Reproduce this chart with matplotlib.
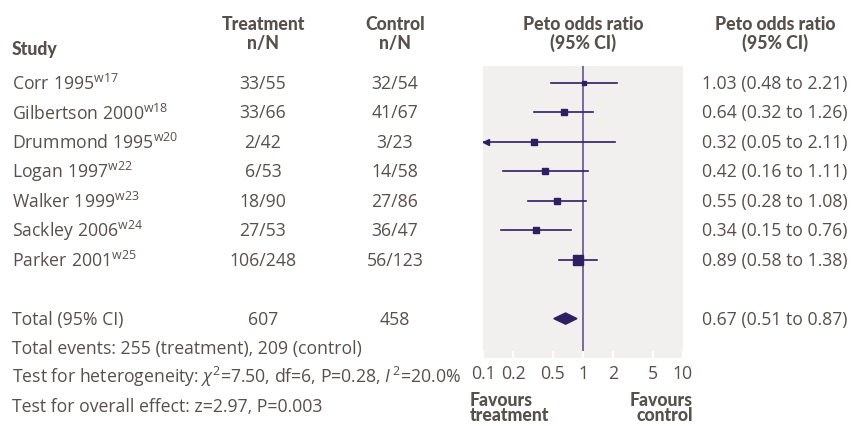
import matplotlib.pyplot as plt
import numpy as np

studies = ["Corr 1995", "Gilbertson 2000", "Drummond 1995", "Logan 1997",
           "Walker 1999", "Sackley 2006", "Parker 2001"]
refs = ["w17", "w18", "w20", "w22", "w23", "w24", "w25"]
treat = ["33/55", "33/66", "2/42", "6/53", "18/90", "27/53", "106/248"]
ctrl = ["32/54", "41/67", "3/23", "14/58", "27/86", "36/47", "56/123"]
orr = [1.03, 0.64, 0.32, 0.42, 0.55, 0.34, 0.89]
lo = [0.48, 0.32, 0.05, 0.16, 0.28, 0.15, 0.58]
hi = [2.21, 1.26, 2.11, 1.11, 1.08, 0.76, 1.38]
box = [2.8, 4.6, 3.8, 4.3, 4.3, 4.0, 6.6]   # marker size, roughly from weight
tot_or, tot_lo, tot_hi = 0.67, 0.51, 0.87
ticks = [0.1, 0.2, 0.5, 1, 2, 5, 10]

txt = '#57504d'
ink = '#2e1f63'
plt.rcParams['font.family'] = ['Open Sans', 'DejaVu Sans']
plt.rcParams['mathtext.fontset'] = 'custom'
plt.rcParams['mathtext.rm'] = 'Open Sans'
plt.rcParams['mathtext.it'] = 'Open Sans:italic'
fs = 12.7
bold = dict(family='Lato', fontweight='black')

fig = plt.figure(figsize=(8.52, 4.27), dpi=100)
bg = fig.add_axes([0, 0, 1, 1])
bg.set_xlim(0, 852)
bg.set_ylim(427, 0)
bg.axis('off')

# forest panel
ax = fig.add_axes([483/852, (427-359)/427, 200/852, (359-67)/427])
ax.set_facecolor('#f1f0ee')
ax.set_xscale('log')
ax.set_xlim(0.1, 10)
row0, step = 84, 29.45
ax.set_ylim((359-row0)/step, (67-row0)/step)
for s in ax.spines.values():
    s.set_visible(False)
ax.set_yticks([])
ax.set_xticks(ticks)
ax.set_xticklabels([str(t) for t in ticks], fontsize=fs, color=txt)
ax.minorticks_off()
ax.tick_params(axis='x', direction='in', length=5, width=1.5, color='white', pad=4)
ax.axvline(1, color='#6e5f98', lw=1.3, zorder=1)

for i in range(len(orr)):
    left = max(lo[i], 0.1)
    ax.plot([left, hi[i]], [i, i], color=ink, lw=1.2, zorder=2)
    ax.plot(orr[i], i, marker='s', ms=box[i], color=ink, zorder=3)
    if lo[i] < 0.1:
        ax.plot(0.107, i, marker='<', ms=5, color=ink, zorder=3, clip_on=False)

yt = 8
ax.fill([tot_lo, tot_or, tot_hi, tot_or], [yt, yt - 0.19, yt, yt + 0.19], color=ink, zorder=3)

# headers
hk = dict(fontsize=fs, color=txt, ha='center', va='center', **bold)
bg.text(12, 50, "Study", ha='left', va='center', fontsize=fs, color=txt, **bold)
bg.text(263, 24, "Treatment", **hk)
bg.text(263, 43, "n/N", **hk)
bg.text(395, 24, "Control", **hk)
bg.text(395, 43, "n/N", **hk)
bg.text(583, 24, "Peto odds ratio", **hk)
bg.text(583, 43, "(95% CI)", **hk)
bg.text(775, 24, "Peto odds ratio", **hk)
bg.text(775, 43, "(95% CI)", **hk)

for i in range(len(studies)):
    y = row0 + i * step
    lab = r"$\mathregular{" + studies[i].replace(" ", r"\ ") + "^{" + refs[i] + "}}$"
    bg.text(12, y, lab, ha='left', va='center', fontsize=fs, color=txt)
    bg.text(263, y, treat[i], ha='center', va='center', fontsize=fs, color=txt)
    bg.text(395, y, ctrl[i], ha='center', va='center', fontsize=fs, color=txt)
    bg.text(702, y, "%.2f (%.2f to %.2f)" % (orr[i], lo[i], hi[i]), ha='left', va='center', fontsize=fs, color=txt)

yT = row0 + 8 * step
bg.text(12, yT, "Total (95% CI)", ha='left', va='center', fontsize=fs, color=txt)
bg.text(263, yT, "607", ha='center', va='center', fontsize=fs, color=txt)
bg.text(395, yT, "458", ha='center', va='center', fontsize=fs, color=txt)
bg.text(702, yT, "%.2f (%.2f to %.2f)" % (tot_or, tot_lo, tot_hi), ha='left', va='center', fontsize=fs, color=txt)

bg.text(12, 349, "Total events: 255 (treatment), 209 (control)", ha='left', va='center', fontsize=fs, color=txt)
bg.text(12, 377, r"Test for heterogeneity: $\chi^2$=7.50, df=6, P=0.28, $\mathit{I}^{\,2}$=20.0%",
        ha='left', va='center', fontsize=fs, color=txt)
bg.text(12, 407, "Test for overall effect: z=2.97, P=0.003", ha='left', va='center', fontsize=fs, color=txt)

bg.text(470, 408, "Favours\ntreatment", ha='left', va='center', fontsize=fs, color=txt,
        linespacing=0.92, **bold)
bg.text(693, 408, "Favours\ncontrol", ha='right', va='center', fontsize=fs, color=txt,
        linespacing=0.92, multialignment='right', **bold)

fig.savefig('out.png', dpi=100, facecolor='white')
